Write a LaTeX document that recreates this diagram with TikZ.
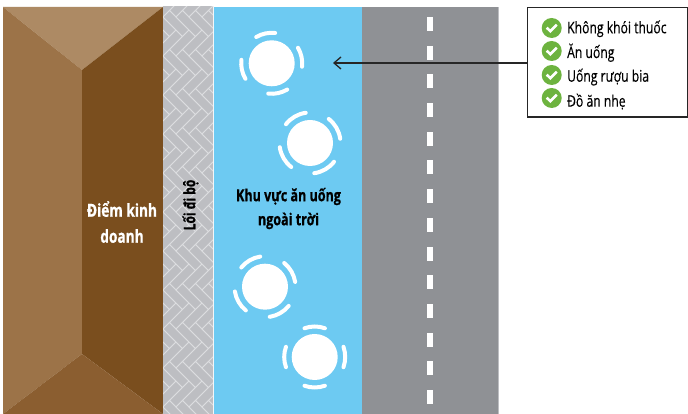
\documentclass[tikz,border=0pt]{standalone}
\usepackage{fontspec}
\usetikzlibrary{arrows.meta}
\setmainfont[FakeStretch=0.76,FakeBold=0.3,BoldFeatures={FakeStretch=0.76,FakeBold=0.7}]{Open Sans}
\definecolor{bTop}{HTML}{AD8A64}
\definecolor{bLeft}{HTML}{9C7348}
\definecolor{bRight}{HTML}{7A4E1E}
\definecolor{bBot}{HTML}{8B5E30}
\definecolor{tile}{HTML}{BDBEC2}
\definecolor{tileline}{HTML}{DCDDE0}
\definecolor{skyb}{HTML}{6DCAF2}
\definecolor{road}{HTML}{8F9195}
\definecolor{okgreen}{HTML}{6DB33F}
\tikzset{
  tablec/.style={circle,fill=white,minimum size=46pt,inner sep=0pt},
  seat/.style={draw=white,line width=4pt,line cap=round},
  paver/.style={fill=tile,draw=tileline,line width=1pt},
  dashmark/.style={fill=white,draw=none},
  chk/.style={circle,fill=okgreen,minimum size=20pt,inner sep=0pt},
  chkm/.style={draw=white,line width=2.6pt},
  list/.style={anchor=base west,font=\fontsize{16}{16}\selectfont,inner sep=0pt},
  boldl/.style={font=\fontsize{16.5}{24}\selectfont\bfseries,align=center,inner sep=0pt},
  infobox/.style={draw=black!85,line width=1.5pt,fill=white,minimum width=160pt,minimum height=109.5pt,inner sep=0pt}
}
\newcommand{\tablemark}[4]{% name, centre, rotation, half span
  \node[tablec] (#1) at (#2) {};
  \foreach \k in {0,90,180,270}{
    \draw[seat] ([shift={(#3+\k-#4:30.5pt)}]#1.center) arc[start angle=#3+\k-#4,end angle=#3+\k+#4,radius=30.5pt];
  }
}
\begin{document}
\begin{tikzpicture}[x=1pt,y=1pt]
\useasboundingbox (0,0) rectangle (688,414);
\fill[white] (0,0) rectangle (688,414);
% building
\fill[bTop] (3,407) -- (163,407) -- (82,344) -- cycle;
\fill[bLeft] (3,407) -- (82,344) -- (82,60) -- (3,0) -- cycle;
\fill[bRight] (163,407) -- (82,344) -- (82,60) -- (163,0) -- cycle;
\fill[bBot] (3,0) -- (82,60) -- (163,0) -- cycle;
% walkway
\begin{scope}
\clip (163,0) rectangle (213,407);
\fill[tile] (163,0) rectangle (213,407);
\foreach \i in {-6,...,7}{
  \foreach \j in {-2,...,11}{
    \begin{scope}[shift={(150+13*\i,397-39*\j)}]
      \draw[paver] (0,0) -- (19.5,-19.5) -- (26,-13) -- (6.5,6.5) -- cycle;
      \draw[paver] (6.5,-32.5) -- (13,-39) -- (32.5,-19.5) -- (26,-13) -- cycle;
    \end{scope}
  }
}
\end{scope}
\fill[white!85!tile] (213,0) rectangle (214.2,407);
% patio and road
\fill[skyb] (214,0) rectangle (362,407);
\fill[road] (362,0) rectangle (498,407);
\fill[tile] (498,0) rectangle (499,407);
\foreach \n in {0,...,13}{
  \fill[dashmark] (427,{397-28.7*\n}) rectangle (433,{383-28.7*\n});
}
% tables
\tablemark{ta}{271.7,350.7}{12}{18.5}
\tablemark{tb}{310,271}{30}{22}
\tablemark{tc}{265,127.3}{30}{21}
\tablemark{td}{314.7,57}{0}{19.5}
% labels
\node[boldl,text=white,font=\fontsize{18}{26}\selectfont\bfseries] (shop) at (122,192) {Điểm kinh\\doanh};
\node[boldl,text=black,rotate=90,font=\fontsize{15.8}{16}\selectfont\bfseries] (walk) at (190.5,209) {Lối đi bộ};
\node[boldl,text=black] (patio) at (288.5,205.5) {Khu vực ăn uống\\ngoài trời};
% info box
\node[infobox] (box) at (607.5,351.5) {};
\coordinate (arrowend) at (333,351);
\draw[black!85,line width=1.3pt,-{Straight Barb[length=7pt,width=12pt]}] (box.west |- arrowend) -- (arrowend);
\foreach \nm/\yy/\ty/\tx in {a/386/380.7/{Không khói thuốc},b/363/356/{Ăn uống},c/339/332.3/{Uống rượu bia},d/316/307.3/{Đồ ăn nhẹ}}{
  \node[chk] (c\nm) at (551.7,\yy) {};
  \draw[chkm] ([shift={(-5,0.3)}]c\nm.center) -- ([shift={(-1.3,-3.2)}]c\nm.center) -- ([shift={(5,3.3)}]c\nm.center);
  \node[list] (l\nm) at (567,\ty) {\tx};
}
\end{tikzpicture}
\end{document}
